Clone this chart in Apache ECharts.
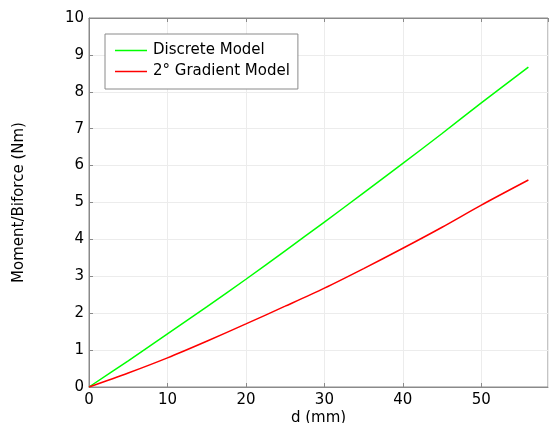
<!DOCTYPE html>
<html>
<head>
<meta charset="utf-8">
<script src="https://cdn.jsdelivr.net/npm/echarts@6/dist/echarts.min.js"></script>
<style>
html, body { margin: 0; padding: 0; background: #fff; }
#chart { width: 549px; height: 423px; }
</style>
</head>
<body>
<div id="chart"></div>
<script>
var dValues = [0, 5, 10, 15, 20, 25, 30, 35, 40, 45, 50, 56];
var discrete = [0, 0.71, 1.44, 2.17, 2.92, 3.69, 4.47, 5.26, 6.06, 6.87, 7.70, 8.67];
var gradient = [0, 0.38, 0.79, 1.24, 1.71, 2.19, 2.68, 3.21, 3.76, 4.33, 4.93, 5.61];
var seriesNames = ['Discrete Model', '2\u00b0 Gradient Model'];
var seriesColors = ['#00ff00', '#ff0000'];

function pairs(ys) {
    var out = [];
    for (var i = 0; i < dValues.length; i++) {
        out.push([dValues[i], ys[i]]);
    }
    return out;
}

var font = 'DejaVu Sans';
var frame = '#8a8a8a';
var myChart = echarts.init(document.getElementById('chart'));
var option = {
    animation: false,
    backgroundColor: '#fff',
    grid: {
        left: 89, top: 18, right: 1, bottom: 36,
        outerBoundsMode: 'none',
        containLabel: false,
        show: true, borderColor: frame, borderWidth: 1
    },
    legend: {
        orient: 'vertical',
        left: 105, top: 34,
        data: [
            { name: seriesNames[0], icon: 'rect', itemStyle: { color: seriesColors[0] } },
            { name: seriesNames[1], icon: 'rect', itemStyle: { color: seriesColors[1] } }
        ],
        backgroundColor: '#fff',
        borderColor: frame,
        borderWidth: 1,
        padding: [9, 8, 10, 10],
        itemGap: 6,
        itemWidth: 32,
        itemHeight: 1.5,
        textStyle: { fontFamily: font, fontSize: 15, color: '#000', padding: [0, 0, 0, 1] }
    },
    xAxis: [{
        type: 'value',
        min: 0, max: 58.5, interval: 10,
        name: 'd (mm)',
        nameLocation: 'middle',
        nameGap: 24,
        nameMoveOverlap: false,
        nameTextStyle: { fontFamily: font, fontSize: 15, color: '#000' },
        axisLine: { lineStyle: { color: frame } },
        axisTick: { inside: true, length: 4, lineStyle: { color: frame } },
        axisLabel: { fontFamily: font, fontSize: 15, color: '#000', margin: 6, showMaxLabel: false },
        splitLine: { lineStyle: { color: '#ececec' } }
    }, {
        type: 'value',
        position: 'top',
        min: 0, max: 58.5, interval: 10,
        axisLine: { lineStyle: { color: frame } },
        axisTick: { inside: true, length: 4, lineStyle: { color: frame } },
        axisLabel: { show: false },
        splitLine: { show: false }
    }],
    yAxis: {
        type: 'value',
        min: 0, max: 10, interval: 1,
        name: 'Moment/Biforce (Nm)',
        nameLocation: 'middle',
        nameGap: 62,
        nameMoveOverlap: false,
        nameTextStyle: { fontFamily: font, fontSize: 15, color: '#000' },
        axisLine: { lineStyle: { color: frame } },
        axisTick: { inside: true, length: 4, lineStyle: { color: frame } },
        axisLabel: { fontFamily: font, fontSize: 15, color: '#000', margin: 5 },
        splitLine: { lineStyle: { color: '#ececec' } }
    },
    series: [{
        name: seriesNames[0],
        type: 'line',
        data: pairs(discrete),
        smooth: 0.3,
        symbol: 'none',
        lineStyle: { color: seriesColors[0], width: 1.5 },
        itemStyle: { color: seriesColors[0] }
    }, {
        name: seriesNames[1],
        type: 'line',
        data: pairs(gradient),
        smooth: 0.3,
        symbol: 'none',
        lineStyle: { color: seriesColors[1], width: 1.5 },
        itemStyle: { color: seriesColors[1] }
    }]
};
myChart.setOption(option);
</script>
</body>
</html>
